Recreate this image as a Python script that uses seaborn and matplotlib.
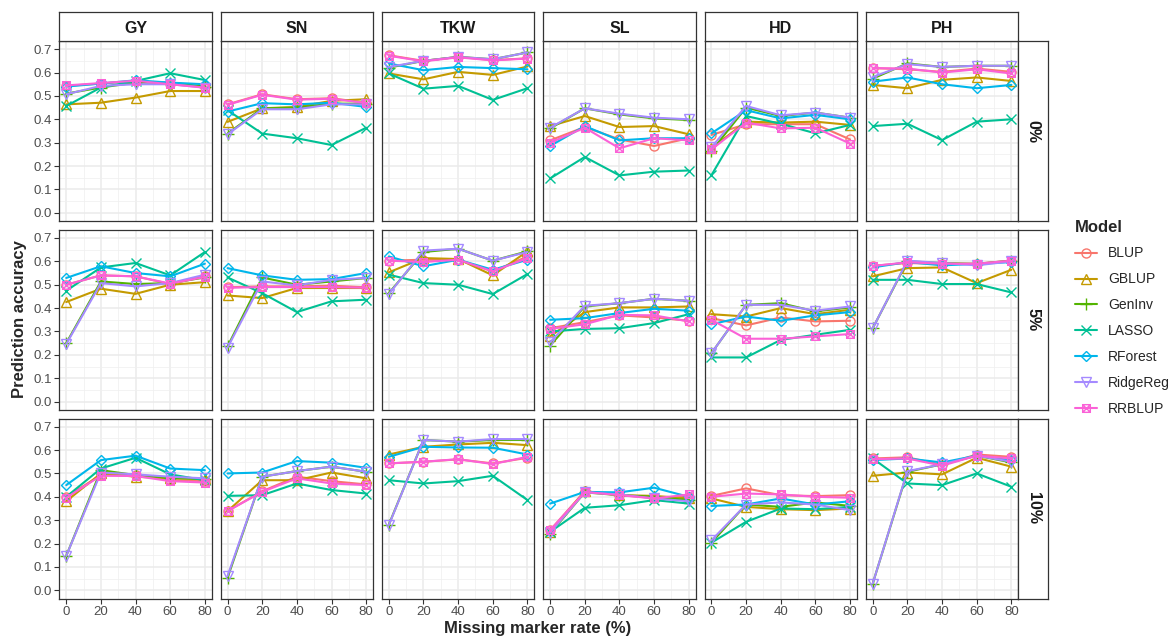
import numpy as np
import pandas as pd
import matplotlib
matplotlib.use("Agg")
import matplotlib.pyplot as plt
import seaborn as sns
from matplotlib.path import Path
from matplotlib.lines import Line2D

sns.set_style("white")
plt.rcParams["font.family"] = ["Liberation Sans", "DejaVu Sans"]

traits = ["GY", "SN", "TKW", "SL", "HD", "PH"]
rate_labels = ["0%", "5%", "10%"]
missing = [0, 20, 40, 60, 80]
models = ["BLUP", "GBLUP", "GenInv", "LASSO", "RForest", "RidgeReg", "RRBLUP"]
colors = ["#F8766D", "#C49A00", "#53B400", "#00C094", "#00B6EB", "#A58AFF", "#FB61D7"]

# rows follow the order of `models`
GY_0 = [[0.543, 0.553, 0.564, 0.550, 0.540], [0.464, 0.471, 0.493, 0.521, 0.521],
        [0.510, 0.536, 0.557, 0.557, 0.540], [0.457, 0.536, 0.564, 0.597, 0.568],
        [0.540, 0.553, 0.567, 0.557, 0.550], [0.507, 0.543, 0.550, 0.550, 0.536],
        [0.545, 0.555, 0.565, 0.550, 0.535]]
SN_0 = [[0.464, 0.507, 0.486, 0.490, 0.471], [0.389, 0.447, 0.453, 0.479, 0.486],
        [0.339, 0.447, 0.450, 0.467, 0.467], [0.439, 0.339, 0.319, 0.290, 0.364],
        [0.433, 0.469, 0.464, 0.471, 0.453], [0.336, 0.443, 0.443, 0.464, 0.464],
        [0.462, 0.505, 0.484, 0.488, 0.470]]
TKW_0 = [[0.674, 0.650, 0.667, 0.653, 0.661], [0.596, 0.571, 0.603, 0.590, 0.626],
         [0.621, 0.650, 0.667, 0.657, 0.686], [0.596, 0.531, 0.543, 0.483, 0.533],
         [0.639, 0.610, 0.624, 0.619, 0.614], [0.624, 0.650, 0.667, 0.657, 0.686],
         [0.672, 0.648, 0.665, 0.652, 0.660]]
SL_0 = [[0.310, 0.367, 0.314, 0.286, 0.319], [0.371, 0.414, 0.367, 0.371, 0.336],
        [0.361, 0.447, 0.421, 0.404, 0.397], [0.147, 0.239, 0.160, 0.176, 0.181],
        [0.286, 0.371, 0.310, 0.319, 0.319], [0.364, 0.447, 0.424, 0.407, 0.400],
        [0.300, 0.364, 0.276, 0.319, 0.310]]
HD_0 = [[0.333, 0.379, 0.379, 0.379, 0.314], [0.276, 0.390, 0.386, 0.390, 0.376],
        [0.264, 0.450, 0.414, 0.429, 0.407], [0.161, 0.414, 0.381, 0.340, 0.376],
        [0.340, 0.439, 0.404, 0.419, 0.400], [0.280, 0.457, 0.417, 0.429, 0.407],
        [0.271, 0.386, 0.361, 0.364, 0.296]]
PH_0 = [[0.619, 0.614, 0.603, 0.617, 0.603], [0.547, 0.533, 0.569, 0.579, 0.564],
        [0.574, 0.639, 0.624, 0.629, 0.629], [0.371, 0.381, 0.311, 0.390, 0.400],
        [0.561, 0.579, 0.550, 0.533, 0.547], [0.581, 0.636, 0.624, 0.629, 0.629],
        [0.619, 0.617, 0.600, 0.614, 0.596]]

GY_5 = [[0.500, 0.540, 0.536, 0.503, 0.536], [0.426, 0.483, 0.461, 0.500, 0.511],
        [0.250, 0.514, 0.503, 0.507, 0.531], [0.474, 0.574, 0.593, 0.540, 0.640],
        [0.529, 0.579, 0.550, 0.536, 0.590], [0.246, 0.507, 0.493, 0.507, 0.543],
        [0.500, 0.540, 0.536, 0.505, 0.533]]
SN_5 = [[0.489, 0.493, 0.493, 0.496, 0.489], [0.454, 0.443, 0.486, 0.486, 0.486],
        [0.236, 0.531, 0.500, 0.514, 0.529], [0.531, 0.464, 0.383, 0.429, 0.436],
        [0.571, 0.540, 0.521, 0.524, 0.550], [0.231, 0.514, 0.497, 0.521, 0.529],
        [0.487, 0.490, 0.490, 0.490, 0.487]]
TKW_5 = [[0.603, 0.607, 0.607, 0.557, 0.621], [0.553, 0.614, 0.610, 0.540, 0.643],
         [0.464, 0.640, 0.654, 0.603, 0.643], [0.543, 0.507, 0.500, 0.460, 0.546],
         [0.621, 0.579, 0.607, 0.564, 0.607], [0.460, 0.646, 0.654, 0.603, 0.640],
         [0.603, 0.597, 0.607, 0.557, 0.614]]
SL_5 = [[0.314, 0.340, 0.369, 0.360, 0.346], [0.279, 0.383, 0.403, 0.403, 0.407],
        [0.240, 0.407, 0.421, 0.440, 0.431], [0.300, 0.311, 0.314, 0.336, 0.374],
        [0.350, 0.357, 0.379, 0.397, 0.389], [0.254, 0.410, 0.421, 0.440, 0.431],
        [0.311, 0.331, 0.371, 0.369, 0.343]]
HD_5 = [[0.357, 0.326, 0.360, 0.343, 0.346], [0.374, 0.364, 0.400, 0.374, 0.393],
        [0.207, 0.414, 0.421, 0.386, 0.403], [0.189, 0.189, 0.264, 0.286, 0.307],
        [0.331, 0.364, 0.346, 0.369, 0.383], [0.207, 0.414, 0.414, 0.389, 0.407],
        [0.350, 0.269, 0.269, 0.279, 0.289]]
PH_5 = [[0.581, 0.593, 0.589, 0.590, 0.603], [0.536, 0.571, 0.574, 0.507, 0.564],
        [0.314, 0.600, 0.593, 0.589, 0.603], [0.521, 0.521, 0.503, 0.503, 0.467],
        [0.574, 0.597, 0.583, 0.589, 0.597], [0.314, 0.603, 0.593, 0.583, 0.600],
        [0.580, 0.596, 0.590, 0.590, 0.603]]

GY_10 = [[0.400, 0.493, 0.493, 0.471, 0.467], [0.381, 0.500, 0.486, 0.479, 0.476],
         [0.147, 0.514, 0.493, 0.481, 0.476], [0.400, 0.521, 0.567, 0.496, 0.471],
         [0.450, 0.557, 0.576, 0.521, 0.514], [0.147, 0.504, 0.496, 0.486, 0.479],
         [0.396, 0.490, 0.489, 0.467, 0.461]]
SN_10 = [[0.339, 0.424, 0.486, 0.467, 0.453], [0.339, 0.471, 0.471, 0.504, 0.479],
         [0.053, 0.486, 0.510, 0.529, 0.507], [0.404, 0.407, 0.457, 0.429, 0.414],
         [0.500, 0.504, 0.553, 0.546, 0.524], [0.061, 0.486, 0.510, 0.529, 0.507],
         [0.339, 0.421, 0.479, 0.457, 0.450]]
TKW_10 = [[0.543, 0.550, 0.560, 0.543, 0.567], [0.581, 0.614, 0.624, 0.631, 0.621],
          [0.281, 0.643, 0.636, 0.643, 0.643], [0.471, 0.457, 0.467, 0.490, 0.386],
          [0.571, 0.614, 0.611, 0.610, 0.581], [0.279, 0.643, 0.636, 0.647, 0.647],
          [0.543, 0.550, 0.561, 0.540, 0.571]]
SL_10 = [[0.257, 0.424, 0.407, 0.396, 0.400], [0.250, 0.424, 0.407, 0.404, 0.393],
         [0.243, 0.419, 0.407, 0.400, 0.386], [0.250, 0.353, 0.364, 0.386, 0.371],
         [0.371, 0.421, 0.419, 0.439, 0.400], [0.247, 0.419, 0.410, 0.393, 0.381],
         [0.257, 0.421, 0.407, 0.393, 0.410]]
HD_10 = [[0.404, 0.436, 0.407, 0.403, 0.407], [0.393, 0.357, 0.347, 0.343, 0.350],
         [0.204, 0.367, 0.357, 0.376, 0.361], [0.204, 0.293, 0.350, 0.347, 0.357],
         [0.361, 0.367, 0.393, 0.367, 0.381], [0.214, 0.367, 0.376, 0.367, 0.343],
         [0.400, 0.414, 0.410, 0.400, 0.396]]
PH_10 = [[0.564, 0.569, 0.536, 0.581, 0.571], [0.490, 0.504, 0.496, 0.567, 0.529],
         [0.029, 0.507, 0.539, 0.576, 0.547], [0.564, 0.457, 0.450, 0.500, 0.443],
         [0.557, 0.564, 0.547, 0.576, 0.557], [0.029, 0.510, 0.539, 0.576, 0.550],
         [0.561, 0.564, 0.533, 0.576, 0.564]]

panels = {
    ("0%", "GY"): GY_0, ("0%", "SN"): SN_0, ("0%", "TKW"): TKW_0,
    ("0%", "SL"): SL_0, ("0%", "HD"): HD_0, ("0%", "PH"): PH_0,
    ("5%", "GY"): GY_5, ("5%", "SN"): SN_5, ("5%", "TKW"): TKW_5,
    ("5%", "SL"): SL_5, ("5%", "HD"): HD_5, ("5%", "PH"): PH_5,
    ("10%", "GY"): GY_10, ("10%", "SN"): SN_10, ("10%", "TKW"): TKW_10,
    ("10%", "SL"): SL_10, ("10%", "HD"): HD_10, ("10%", "PH"): PH_10,
}

rows = []
for (rate, trait), mat in panels.items():
    for m, vals in zip(models, mat):
        for x, v in zip(missing, vals):
            rows.append(dict(rate=rate, trait=trait, Model=m, missing=x, acc=v))
df = pd.DataFrame(rows)

# square-with-cross marker (ggplot shape 7)
sq_verts = [(-1, -1), (1, -1), (1, 1), (-1, 1), (-1, -1),
            (-1, -1), (1, 1), (-1, 1), (1, -1)]
sq_codes = [Path.MOVETO, Path.LINETO, Path.LINETO, Path.LINETO, Path.CLOSEPOLY,
            Path.MOVETO, Path.LINETO, Path.MOVETO, Path.LINETO]
sqx = Path(sq_verts, sq_codes)
markers = {"BLUP": "o", "GBLUP": "^", "GenInv": "+", "LASSO": "x",
           "RForest": "D", "RidgeReg": "v", "RRBLUP": sqx}
msizes = {"BLUP": 6.5, "GBLUP": 6.5, "GenInv": 8, "LASSO": 6.5,
          "RForest": 5.5, "RidgeReg": 6.5, "RRBLUP": 5.5}
cmap = dict(zip(models, colors))

W, H = 1170, 640
fig = plt.figure(figsize=(W / 100, H / 100), dpi=100)
fig.patch.set_facecolor("white")

col_left = [59.3 + 161.3 * i for i in range(6)]
pw = 152.5
row_top = [41, 229.8, 418.5]
ph = 180
border = "#333333"

for r, rate in enumerate(rate_labels):
    for c, trait in enumerate(traits):
        l = col_left[c]
        t = row_top[r]
        ax = fig.add_axes([l / W, 1 - (t + ph) / H, pw / W, ph / H])
        ax.set_facecolor("white")
        sub = df[(df.rate == rate) & (df.trait == trait)]
        for m in models:
            s = sub[sub.Model == m]
            col = cmap[m]
            sns.lineplot(data=s, x="missing", y="acc", ax=ax, color=col,
                         marker=markers[m], markersize=msizes[m], mfc="none",
                         mec=col, mew=1.0, lw=1.5, legend=False, zorder=3)
        ax.set_xlim(-4, 84)
        ax.set_ylim(-0.035, 0.735)
        ax.set_xticks(missing)
        ax.set_xticks([10, 30, 50, 70], minor=True)
        ax.set_yticks(np.round(np.arange(0, 0.71, 0.1), 1))
        ax.set_yticks(np.round(np.arange(0.05, 0.71, 0.1), 2), minor=True)
        ax.grid(which="major", color="#EBEBEB", lw=1.1, zorder=0)
        ax.grid(which="minor", color="#F0F0F0", lw=0.55, zorder=0)
        ax.set_axisbelow(True)
        for sp in ax.spines.values():
            sp.set_color(border)
            sp.set_linewidth(0.9)
            sp.set_visible(True)
        ax.set_xlabel("")
        ax.set_ylabel("")
        ax.tick_params(which="major", length=3.3, width=0.8, color=border,
                       labelsize=9.5, labelcolor="#4D4D4D", pad=2,
                       left=(c == 0), bottom=(r == 2),
                       labelleft=(c == 0), labelbottom=(r == 2))
        ax.tick_params(which="minor", length=0)
        if c == 0:
            ax.set_yticklabels([f"{v:.1f}" for v in np.arange(0, 0.71, 0.1)])
        # top strips
        if r == 0:
            sax = fig.add_axes([l / W, 1 - t / H, pw / W, 28.7 / H])
            sax.set_xticks([]); sax.set_yticks([])
            sax.set_facecolor("white")
            for sp in sax.spines.values():
                sp.set_color(border); sp.set_linewidth(0.9)
            sax.text(0.5, 0.45, trait, ha="center", va="center",
                     fontsize=11.5, fontweight="bold", color="#1A1A1A",
                     transform=sax.transAxes)
        # right strips
        if c == 5:
            rx = l + pw
            rax = fig.add_axes([rx / W, 1 - (t + ph) / H, 29.5 / W, ph / H])
            rax.set_xticks([]); rax.set_yticks([])
            rax.set_facecolor("white")
            for sp in rax.spines.values():
                sp.set_color(border); sp.set_linewidth(0.9)
            rax.text(0.5, 0.5, rate, ha="center", va="center", rotation=-90,
                     fontsize=11.5, fontweight="bold", color="#1A1A1A",
                     transform=rax.transAxes)

fig.text(19.5 / W, 1 - 319 / H, "Prediction accuracy", rotation=90,
         ha="center", va="center", fontsize=12, fontweight="bold")
fig.text(538 / W, 1 - 628 / H, "Missing marker rate (%)",
         ha="center", va="center", fontsize=12, fontweight="bold")

handles = [Line2D([0], [0], color=cmap[m], lw=1.5, marker=markers[m],
                  markersize=msizes[m], mfc="none", mec=cmap[m], mew=1.0)
           for m in models]
leg = fig.legend(handles, models, title="Model", loc="upper left",
                 bbox_to_anchor=(1062 / W, 1 - 207 / H), frameon=False,
                 fontsize=10, title_fontproperties={"weight": "bold", "size": 12},
                 handlelength=1.6, handletextpad=0.8, labelspacing=0.86,
                 alignment="left")

fig.savefig("out.png", dpi=100, facecolor="white")
